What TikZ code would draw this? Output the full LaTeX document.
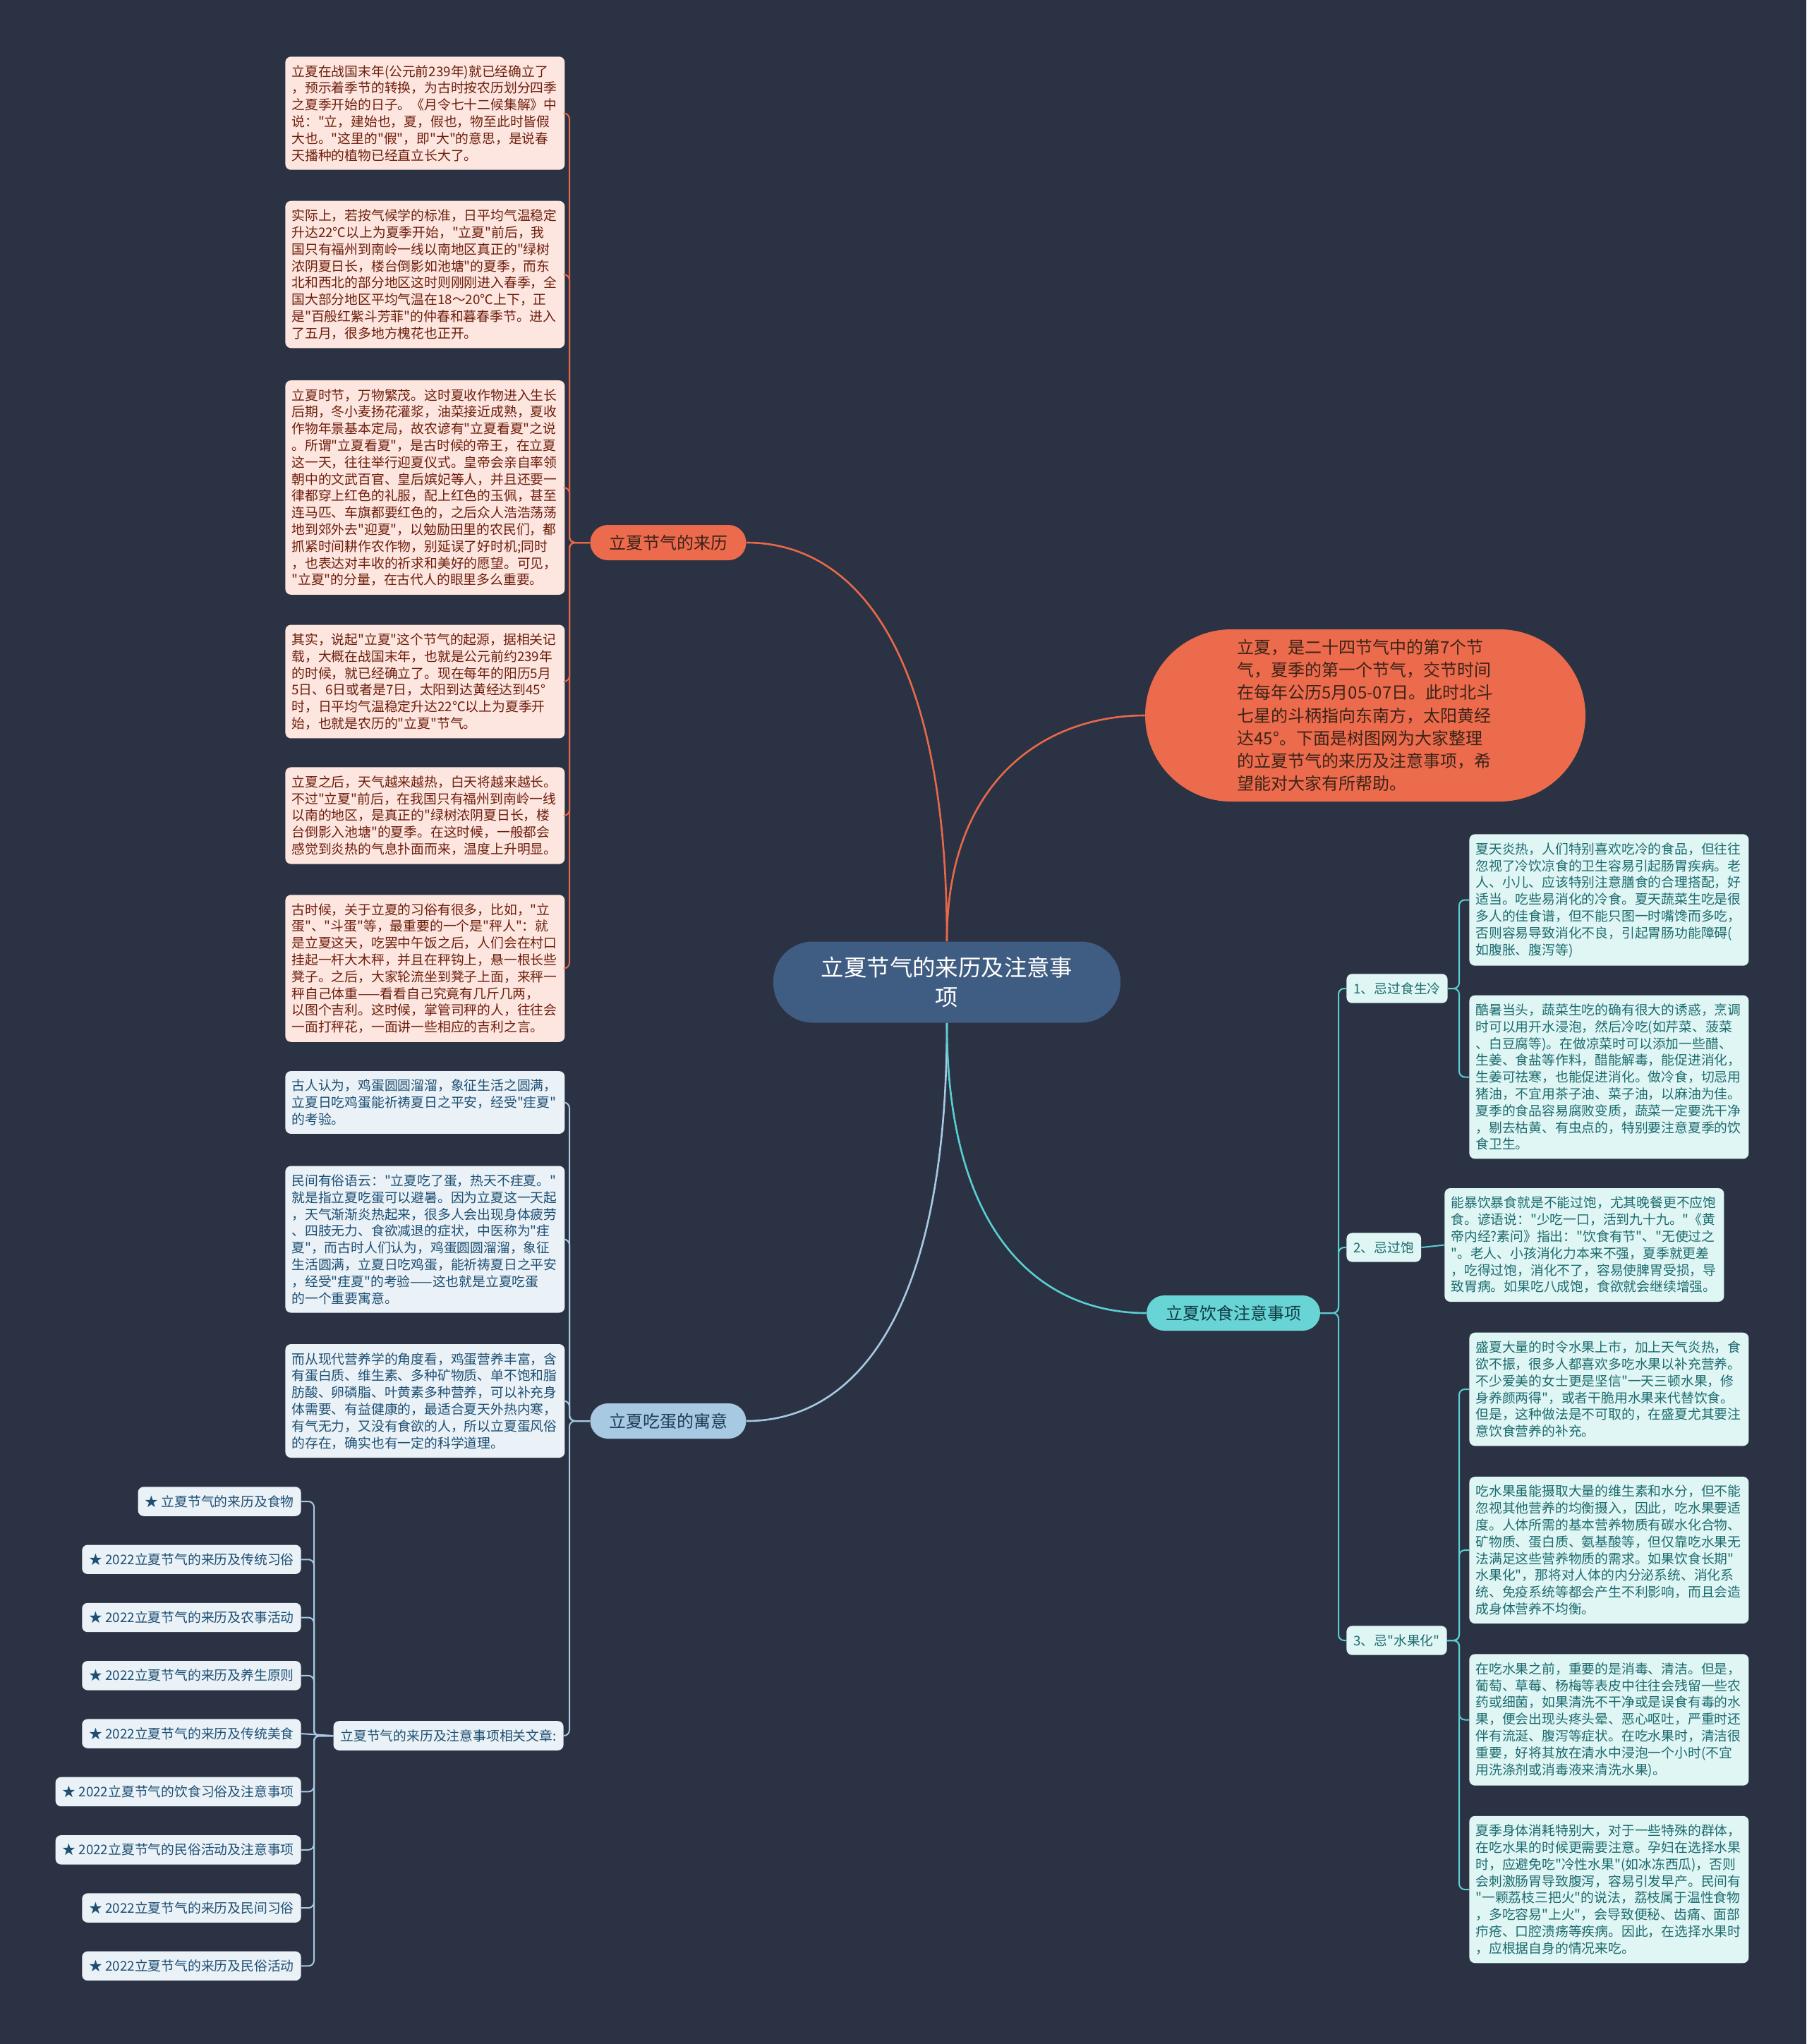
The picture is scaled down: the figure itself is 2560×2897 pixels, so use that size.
\documentclass[tikz,border=0pt]{standalone}
\usepackage{fontspec}
\setmainfont{Noto Sans CJK SC}[Ligatures=TeXOff]
\usetikzlibrary{positioning}

\definecolor{bgcol}{HTML}{2B3243}
\definecolor{rootfill}{HTML}{3F5C82}
\definecolor{orgfill}{HTML}{EC6B4C}
\definecolor{orgline}{HTML}{E8694A}
\definecolor{pinkfill}{HTML}{FDE6DF}
\definecolor{pinktext}{HTML}{6E1E0C}
\definecolor{egfill}{HTML}{A7C9E2}
\definecolor{egtext}{HTML}{1F3C58}
\definecolor{bluefill}{HTML}{EAF2F8}
\definecolor{bluetext}{HTML}{1E4F72}
\definecolor{dietfill}{HTML}{69D4D6}
\definecolor{diettext}{HTML}{0F3F44}
\definecolor{dietline}{HTML}{5ACFD3}
\definecolor{cyanfill}{HTML}{E0F6F5}
\definecolor{cyantext}{HTML}{1C6B6E}
\definecolor{introtext}{HTML}{3B2318}

\begin{document}
\begin{tikzpicture}[
    x=0.5pt, y=-0.5pt,
    txtbox/.style={rectangle, rounded corners=4pt, align=left, text width=189pt,
        inner xsep=4.5pt, inner ysep=6pt, font={\fontsize{9.4}{11.9}\selectfont}, anchor=west},
    redbox/.style={txtbox, fill=pinkfill, text=pinktext},
    bluebox/.style={txtbox, fill=bluefill, text=bluetext},
    cyanbox/.style={txtbox, fill=cyanfill, text=cyantext},
    branch/.style={rectangle, rounded corners=12.5pt, minimum height=25pt,
        font={\fontsize{12}{14}\selectfont}},
    itembox/.style={rectangle, rounded corners=4pt, fill=bluefill, text=bluetext,
        inner xsep=5pt, inner ysep=6pt, font={\fontsize{9.4}{11.9}\selectfont}},
    sublabel/.style={rectangle, rounded corners=4pt, fill=cyanfill, text=cyantext,
        inner xsep=5pt, inner ysep=6pt, anchor=west,
        font={\fontsize{9.4}{11.9}\selectfont}},
    link/.style={line width=1pt, rounded corners=4pt},
    mainlink/.style={line width=1.3pt}
]
\fill[bgcol] (0,0) rectangle (2560,2897);
\useasboundingbox (0,0) rectangle (2560,2897);

% centre and main branches
\node[rectangle, rounded corners=28pt, fill=rootfill, text=white, align=center,
    minimum width=246pt, minimum height=57.5pt, font={\fontsize{16.2}{21}\selectfont}]
    (root) at (1342,1392) {立夏节气的来历及注意事\\项};
\node[rectangle, rounded corners=61pt, fill=orgfill, text=introtext, align=left,
    minimum width=312pt, minimum height=122pt, font={\fontsize{12}{16.1}\selectfont}]
    (intro) at (1935,1014) {立夏，是二十四节气中的第7个节\\气，夏季的第一个节气，交节时间\\在每年公历5月05-07日。此时北斗\\七星的斗柄指向东南方，太阳黄经\\达45°。下面是树图网为大家整理\\的立夏节气的来历及注意事项，希\\望能对大家有所帮助。};
\node[branch, fill=orgfill, text=introtext, minimum width=110.5pt] (orig) at (947,769) {立夏节气的来历};
\node[branch, fill=egfill, text=egtext, minimum width=110.5pt] (egg) at (947,2014) {立夏吃蛋的寓意};
\node[branch, fill=dietfill, text=diettext, minimum width=123pt] (diet) at (1748,1861) {立夏饮食注意事项};

% bus lines
\coordinate (lbus) at (807,0);
\coordinate (abus) at (445,0);
\coordinate (dbus) at (1897,0);
\coordinate (rbus) at (2068,0);

% origin texts
\node[redbox] (l1) at (404,160.5) {立夏在战国末年(公元前239年)就已经确立了\\，预示着季节的转换，为古时按农历划分四季\\之夏季开始的日子。《月令七十二候集解》中\\说："立，建始也，夏，假也，物至此时皆假\\大也。"这里的"假"，即"大"的意思，是说春\\天播种的植物已经直立长大了。};
\node[redbox] (l2) at (404,389) {实际上，若按气候学的标准，日平均气温稳定\\升达22℃以上为夏季开始，"立夏"前后，我\\国只有福州到南岭一线以南地区真正的"绿树\\浓阴夏日长，楼台倒影如池塘"的夏季，而东\\北和西北的部分地区这时则刚刚进入春季，全\\国大部分地区平均气温在18～20℃上下，正\\是"百般红紫斗芳菲"的仲春和暮春季节。进入\\了五月，很多地方槐花也正开。};
\node[redbox] (l3) at (404,691) {立夏时节，万物繁茂。这时夏收作物进入生长\\后期，冬小麦扬花灌浆，油菜接近成熟，夏收\\作物年景基本定局，故农谚有"立夏看夏"之说\\。所谓"立夏看夏"，是古时候的帝王，在立夏\\这一天，往往举行迎夏仪式。皇帝会亲自率领\\朝中的文武百官、皇后嫔妃等人，并且还要一\\律都穿上红色的礼服，配上红色的玉佩，甚至\\连马匹、车旗都要红色的，之后众人浩浩荡荡\\地到郊外去"迎夏"，以勉励田里的农民们，都\\抓紧时间耕作农作物，别延误了好时机;同时\\，也表达对丰收的祈求和美好的愿望。可见，\\"立夏"的分量，在古代人的眼里多么重要。};
\node[redbox] (l4) at (404,966) {其实，说起"立夏"这个节气的起源，据相关记\\载，大概在战国末年，也就是公元前约239年\\的时候，就已经确立了。现在每年的阳历5月\\5日、6日或者是7日，太阳到达黄经达到45°\\时，日平均气温稳定升达22℃以上为夏季开\\始，也就是农历的"立夏"节气。};
\node[redbox] (l5) at (404,1156) {立夏之后，天气越来越热，白天将越来越长。\\不过"立夏"前后，在我国只有福州到南岭一线\\以南的地区，是真正的"绿树浓阴夏日长，楼\\台倒影入池塘"的夏季。在这时候，一般都会\\感觉到炎热的气息扑面而来，温度上升明显。};
\node[redbox] (l6) at (404,1372.5) {古时候，关于立夏的习俗有很多，比如，"立\\蛋"、"斗蛋"等，最重要的一个是"秤人"：就\\是立夏这天，吃罢中午饭之后，人们会在村口\\挂起一杆大木秤，并且在秤钩上，悬一根长些\\凳子。之后，大家轮流坐到凳子上面，来秤一\\秤自己体重——看看自己究竟有几斤几两，\\以图个吉利。这时候，掌管司秤的人，往往会\\一面打秤花，一面讲一些相应的吉利之言。};

% egg texts
\node[bluebox] (b1) at (404,1562.5) {古人认为，鸡蛋圆圆溜溜，象征生活之圆满，\\立夏日吃鸡蛋能祈祷夏日之平安，经受"疰夏"\\的考验。};
\node[bluebox] (b2) at (404,1756.5) {民间有俗语云："立夏吃了蛋，热天不疰夏。"\\就是指立夏吃蛋可以避暑。因为立夏这一天起\\，天气渐渐炎热起来，很多人会出现身体疲劳\\、四肢无力、食欲减退的症状，中医称为"疰\\夏"，而古时人们认为，鸡蛋圆圆溜溜，象征\\生活圆满，立夏日吃鸡蛋，能祈祷夏日之平安\\，经受"疰夏"的考验——这也就是立夏吃蛋\\的一个重要寓意。};
\node[bluebox] (b3) at (404,1985.5) {而从现代营养学的角度看，鸡蛋营养丰富，含\\有蛋白质、维生素、多种矿物质、单不饱和脂\\肪酸、卵磷脂、叶黄素多种营养，可以补充身\\体需要、有益健康的，最适合夏天外热内寒，\\有气无力，又没有食欲的人，所以立夏蛋风俗\\的存在，确实也有一定的科学道理。};
\node[itembox, anchor=east] (hdr) at (799,2460) {立夏节气的来历及注意事项相关文章:};

% related articles
\node[itembox, anchor=east] (a1) at (427,2128) {★ 立夏节气的来历及食物};
\node[itembox, below=20pt of a1.south east, anchor=north east] (a2) {★ 2022立夏节气的来历及传统习俗};
\node[itembox, below=20pt of a2.south east, anchor=north east] (a3) {★ 2022立夏节气的来历及农事活动};
\node[itembox, below=20pt of a3.south east, anchor=north east] (a4) {★ 2022立夏节气的来历及养生原则};
\node[itembox, below=20pt of a4.south east, anchor=north east] (a5) {★ 2022立夏节气的来历及传统美食};
\node[itembox, below=20pt of a5.south east, anchor=north east] (a6) {★ 2022立夏节气的饮食习俗及注意事项};
\node[itembox, below=20pt of a6.south east, anchor=north east] (a7) {★ 2022立夏节气的民俗活动及注意事项};
\node[itembox, below=20pt of a7.south east, anchor=north east] (a8) {★ 2022立夏节气的来历及民间习俗};
\node[itembox, below=20pt of a8.south east, anchor=north east] (a9) {★ 2022立夏节气的来历及民俗活动};

% diet side
\node[sublabel] (s1) at (1908,1401) {1、忌过食生冷};
\node[sublabel] (s2) at (1908,1768) {2、忌过饱};
\node[sublabel] (s3) at (1908,2325) {3、忌"水果化"};
\node[cyanbox] (r1) at (2082,1275.5) {夏天炎热，人们特别喜欢吃冷的食品，但往往\\忽视了冷饮凉食的卫生容易引起肠胃疾病。老\\人、小儿、应该特别注意膳食的合理搭配，好\\适当。吃些易消化的冷食。夏天蔬菜生吃是很\\多人的佳食谱，但不能只图一时嘴馋而多吃，\\否则容易导致消化不良，引起胃肠功能障碍(\\如腹胀、腹泻等)};
\node[cyanbox] (r2) at (2082,1526.5) {酷暑当头，蔬菜生吃的确有很大的诱惑，烹调\\时可以用开水浸泡，然后冷吃(如芹菜、菠菜\\、白豆腐等)。在做凉菜时可以添加一些醋、\\生姜、食盐等作料，醋能解毒，能促进消化，\\生姜可祛寒，也能促进消化。做冷食，切忌用\\猪油，不宜用茶子油、菜子油，以麻油为佳。\\夏季的食品容易腐败变质，蔬菜一定要洗干净\\，剔去枯黄、有虫点的，特别要注意夏季的饮\\食卫生。};
\node[cyanbox] (r3) at (2047,1764.5) {能暴饮暴食就是不能过饱，尤其晚餐更不应饱\\食。谚语说："少吃一口，活到九十九。"《黄\\帝内经?素问》指出："饮食有节"、"无使过之\\"。老人、小孩消化力本来不强，夏季就更差\\，吃得过饱，消化不了，容易使脾胃受损，导\\致胃病。如果吃八成饱，食欲就会继续增强。};
\node[cyanbox] (r4) at (2082,1969) {盛夏大量的时令水果上市，加上天气炎热，食\\欲不振，很多人都喜欢多吃水果以补充营养。\\不少爱美的女士更是坚信"一天三顿水果，修\\身养颜两得"，或者干脆用水果来代替饮食。\\但是，这种做法是不可取的，在盛夏尤其要注\\意饮食营养的补充。};
\node[cyanbox] (r5) at (2082,2197) {吃水果虽能摄取大量的维生素和水分，但不能\\忽视其他营养的均衡摄入，因此，吃水果要适\\度。人体所需的基本营养物质有碳水化合物、\\矿物质、蛋白质、氨基酸等，但仅靠吃水果无\\法满足这些营养物质的需求。如果饮食长期"\\水果化"，那将对人体的内分泌系统、消化系\\统、免疫系统等都会产生不利影响，而且会造\\成身体营养不均衡。};
\node[cyanbox] (r6) at (2082,2437.5) {在吃水果之前，重要的是消毒、清洁。但是，\\葡萄、草莓、杨梅等表皮中往往会残留一些农\\药或细菌，如果清洗不干净或是误食有毒的水\\果，便会出现头疼头晕、恶心呕吐，严重时还\\伴有流涎、腹泻等症状。在吃水果时，清洁很\\重要，好将其放在清水中浸泡一个小时(不宜\\用洗涤剂或消毒液来清洗水果)。};
\node[cyanbox] (r7) at (2082,2678) {夏季身体消耗特别大，对于一些特殊的群体，\\在吃水果的时候更需要注意。孕妇在选择水果\\时，应避免吃"冷性水果"(如冰冻西瓜)，否则\\会刺激肠胃导致腹泻，容易引发早产。民间有\\"一颗荔枝三把火"的说法，荔枝属于温性食物\\，多吃容易"上火"，会导致便秘、齿痛、面部\\疖疮、口腔溃疡等疾病。因此，在选择水果时\\，应根据自身的情况来吃。};

% main curves
\draw[mainlink, orgline] (root.north) .. controls +(0,-420) and +(150,0) .. (orig.east);
\draw[mainlink, orgline] (root.north) .. controls +(0,-230) and +(-140,0) .. (intro.west);
\draw[mainlink, egfill] (root.south) .. controls +(0,420) and +(150,0) .. (egg.east);
\draw[mainlink, dietline] (root.south) .. controls +(0,300) and +(-150,0) .. (diet.west);

% origin links
\draw[link, orgline] (orig.west) -- (orig.west -| lbus) |- (l1.east);
\draw[link, orgline] (orig.west) -- (orig.west -| lbus) |- (l2.east);
\draw[link, orgline] (orig.west) -- (orig.west -| lbus) |- (l3.east);
\draw[link, orgline] (orig.west) -- (orig.west -| lbus) |- (l4.east);
\draw[link, orgline] (orig.west) -- (orig.west -| lbus) |- (l5.east);
\draw[link, orgline] (orig.west) -- (orig.west -| lbus) |- (l6.east);

% egg links
\draw[link, egfill] (egg.west) -- (egg.west -| lbus) |- (b1.east);
\draw[link, egfill] (egg.west) -- (egg.west -| lbus) |- (b2.east);
\draw[link, egfill] (egg.west) -- (egg.west -| lbus) |- (b3.east);
\draw[link, egfill] (egg.west) -- (egg.west -| lbus) |- (hdr.east);

% article links
\draw[link, egfill] (hdr.west) -- (hdr.west -| abus) |- (a1.east);
\draw[link, egfill] (hdr.west) -- (hdr.west -| abus) |- (a2.east);
\draw[link, egfill] (hdr.west) -- (hdr.west -| abus) |- (a3.east);
\draw[link, egfill] (hdr.west) -- (hdr.west -| abus) |- (a4.east);
\draw[link, egfill] (hdr.west) -- (a5.east);
\draw[link, egfill] (hdr.west) -- (hdr.west -| abus) |- (a6.east);
\draw[link, egfill] (hdr.west) -- (hdr.west -| abus) |- (a7.east);
\draw[link, egfill] (hdr.west) -- (hdr.west -| abus) |- (a8.east);
\draw[link, egfill] (hdr.west) -- (hdr.west -| abus) |- (a9.east);

% diet links
\draw[link, dietline] (diet.east) -- (diet.east -| dbus) |- (s1.west);
\draw[link, dietline] (diet.east) -- (diet.east -| dbus) |- (s2.west);
\draw[link, dietline] (diet.east) -- (diet.east -| dbus) |- (s3.west);
\draw[link, dietline] (s1.east) -- (s1.east -| rbus) |- (r1.west);
\draw[link, dietline] (s1.east) -- (s1.east -| rbus) |- (r2.west);
\draw[link, dietline] (s2.east) -- (r3.west);
\draw[link, dietline] (s3.east) -- (s3.east -| rbus) |- (r4.west);
\draw[link, dietline] (s3.east) -- (s3.east -| rbus) |- (r5.west);
\draw[link, dietline] (s3.east) -- (s3.east -| rbus) |- (r6.west);
\draw[link, dietline] (s3.east) -- (s3.east -| rbus) |- (r7.west);
\end{tikzpicture}
\end{document}
